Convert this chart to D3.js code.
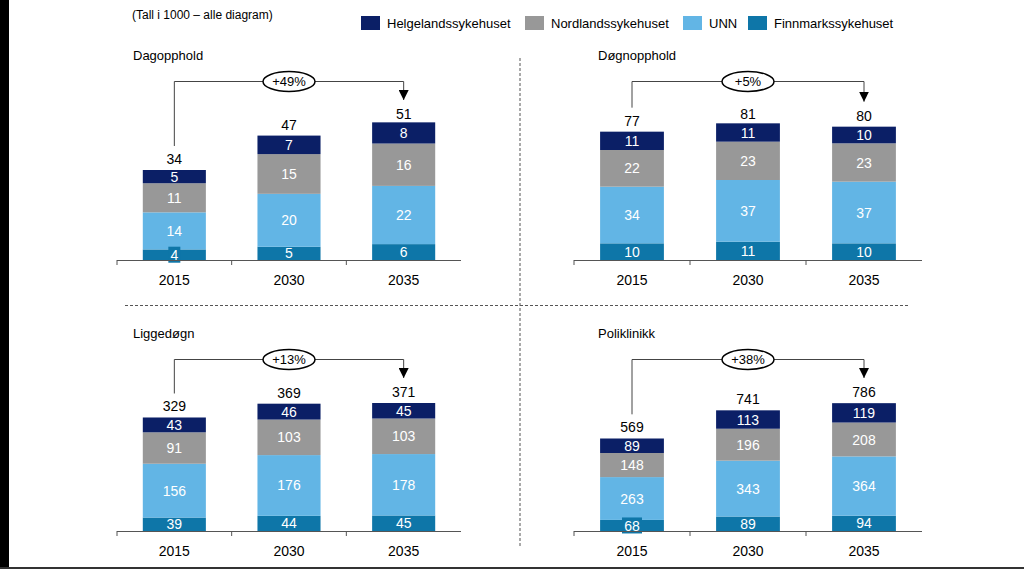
<!DOCTYPE html>
<html><head><meta charset="utf-8">
<script src="https://cdn.jsdelivr.net/npm/d3@7"></script>
<style>
html,body{margin:0;padding:0;background:#fff;}
svg{display:block;font-family:Arial,"Liberation Sans",sans-serif;}
</style></head>
<body>
<svg id="c" width="1024" height="569"></svg>
<script>
const years = ["2015","2030","2035"];
const seriesNames = ["Helgelandssykehuset","Nordlandssykehuset","UNN","Finnmarkssykehuset"];
const seriesColors = ["#0b1f66","#989898","#62b5e5","#0e76a8"];
const stackOrder = ["Finnmarkssykehuset","UNN","Nordlandssykehuset","Helgelandssykehuset"];

const panelTitles = ["Dagopphold","Døgnopphold","Liggedøgn","Poliklinikk"];
const growthLabels = ["+49%","+5%","+13%","+38%"];

// values per series, [2015, 2030, 2035]
const dagHelg = [5,7,8], dagNord = [11,15,16], dagUNN = [14,20,22], dagFinn = [4,5,6], dagTotal = [34,47,51];
const dognHelg = [11,11,10], dognNord = [22,23,23], dognUNN = [34,37,37], dognFinn = [10,11,10], dognTotal = [77,81,80];
const liggHelg = [43,46,45], liggNord = [91,103,103], liggUNN = [156,176,178], liggFinn = [39,44,45], liggTotal = [329,369,371];
const poliHelg = [89,113,119], poliNord = [148,196,208], poliUNN = [263,343,364], poliFinn = [68,89,94], poliTotal = [569,741,786];

const panelData = [
  {Helgelandssykehuset:dagHelg, Nordlandssykehuset:dagNord, UNN:dagUNN, Finnmarkssykehuset:dagFinn, total:dagTotal},
  {Helgelandssykehuset:dognHelg, Nordlandssykehuset:dognNord, UNN:dognUNN, Finnmarkssykehuset:dognFinn, total:dognTotal},
  {Helgelandssykehuset:liggHelg, Nordlandssykehuset:liggNord, UNN:liggUNN, Finnmarkssykehuset:liggFinn, total:liggTotal},
  {Helgelandssykehuset:poliHelg, Nordlandssykehuset:poliNord, UNN:poliUNN, Finnmarkssykehuset:poliFinn, total:poliTotal}
];

const svg = d3.select("#c");
const color = d3.scaleOrdinal().domain(seriesNames).range(seriesColors);

// frame artefacts
svg.append("rect").attr("x",0).attr("y",0).attr("width",9).attr("height",569).attr("fill","#000");
svg.append("rect").attr("x",0).attr("y",567).attr("width",1024).attr("height",2).attr("fill","#333");

// note
svg.append("text").attr("x",132).attr("y",19).attr("font-size",12).attr("fill","#000").text("(Tall i 1000 – alle diagram)");

// legend
const legX = [361,525,683,748];
seriesNames.forEach((s,i)=>{
  svg.append("rect").attr("x",legX[i]).attr("y",16).attr("width",19).attr("height",14).attr("fill",color(s));
  svg.append("text").attr("x",legX[i]+26).attr("y",28).attr("font-size",13).attr("fill","#000").text(s);
});

// separators
svg.append("line").attr("x1",520).attr("x2",520).attr("y1",58).attr("y2",548)
  .attr("stroke","#555").attr("stroke-width",1).attr("stroke-dasharray","3,2");
svg.append("line").attr("x1",125).attr("x2",910).attr("y1",305.5).attr("y2",305.5)
  .attr("stroke","#555").attr("stroke-width",1).attr("stroke-dasharray","3,2");

const layout = [
  {x0:117, x1:461, base:260, top:125, tx:133, ty:60},
  {x0:574, x1:922, base:260, top:125, tx:598, ty:60},
  {x0:117, x1:461, base:531, top:403, tx:133, ty:338},
  {x0:574, x1:922, base:531, top:403, tx:598, ty:338}
];

const defs = svg.append("defs");
defs.append("marker").attr("id","arr").attr("viewBox","0 0 10 10").attr("refX",10).attr("refY",5)
  .attr("markerWidth",10).attr("markerHeight",10).attr("markerUnits","userSpaceOnUse").attr("orient","auto")
  .append("path").attr("d","M0,0L10,5L0,10Z").attr("fill","#000");

panelData.forEach((pd,pi)=>{
  const L = layout[pi];
  const g = svg.append("g");
  g.append("text").attr("x",L.tx).attr("y",L.ty).attr("font-size",13).attr("fill","#000").text(panelTitles[pi]);

  const x = d3.scaleBand().domain(years).range([L.x0,L.x1]).paddingInner(0.45).paddingOuter(0.225);
  const y = d3.scaleLinear().domain([0,d3.max(pd.total)]).range([L.base,L.top]);

  const rows = years.map((yr,i)=>{ const o={year:yr}; stackOrder.forEach(s=>o[s]=pd[s][i]); return o; });
  const stacked = d3.stack().keys(stackOrder)(rows);

  stacked.forEach(layer=>{
    const s = layer.key;
    layer.forEach(d=>{
      g.append("rect").attr("x",x(d.data.year)).attr("y",y(d[1])).attr("width",x.bandwidth())
        .attr("height",y(d[0])-y(d[1])).attr("fill",color(s));
    });
  });
  stacked.forEach(layer=>{
    const s = layer.key;
    layer.forEach(d=>{
      const cx = x(d.data.year)+x.bandwidth()/2;
      const cy = (y(d[0])+y(d[1]))/2;
      const h = y(d[0])-y(d[1]);
      const val = d[1]-d[0];
      if (h < 12) {
        const w = String(val).length*8+4;
        g.append("rect").attr("x",cx-w/2).attr("y",cy-8).attr("width",w).attr("height",16).attr("fill",color(s));
      }
      g.append("text").attr("x",cx).attr("y",cy).attr("dy","0.36em").attr("text-anchor","middle")
        .attr("font-size",14).attr("fill","#fff").text(val);
    });
  });

  // totals
  const barTop = years.map((yr,i)=>y(pd.total[i]));
  years.forEach((yr,i)=>{
    g.append("text").attr("x",x(yr)+x.bandwidth()/2).attr("y",barTop[i]-6).attr("text-anchor","middle")
      .attr("font-size",14).attr("fill","#000").text(pd.total[i]);
  });

  // axis
  g.append("line").attr("x1",L.x0).attr("x2",L.x1).attr("y1",L.base+0.5).attr("y2",L.base+0.5)
    .attr("stroke","#555").attr("stroke-width",1);
  years.forEach((yr,i)=>{
    const tx = L.x0 + i*x.step();
    g.append("line").attr("x1",tx).attr("x2",tx).attr("y1",L.base).attr("y2",L.base+5).attr("stroke","#555");
    g.append("text").attr("x",x(yr)+x.bandwidth()/2).attr("y",L.base+25).attr("text-anchor","middle")
      .attr("font-size",14).attr("fill","#000").text(yr);
  });

  // growth bracket
  const xa = x(years[0])+x.bandwidth()/2;
  const xb = x(years[2])+x.bandwidth()/2;
  const by = L.top - 43.5;
  g.append("path").attr("d",`M${xa},${barTop[0]-24}V${by}H${xb}V${barTop[2]-25}`)
    .attr("fill","none").attr("stroke","#444").attr("stroke-width",1).attr("marker-end","url(#arr)");
  const ex = (xa+xb)/2;
  g.append("ellipse").attr("cx",ex).attr("cy",by).attr("rx",26).attr("ry",10)
    .attr("fill","#fff").attr("stroke","#000").attr("stroke-width",1.5);
  g.append("text").attr("x",ex).attr("y",by).attr("dy","0.36em").attr("text-anchor","middle")
    .attr("font-size",13).attr("fill","#000").text(growthLabels[pi]);
});
</script>
</body></html>
